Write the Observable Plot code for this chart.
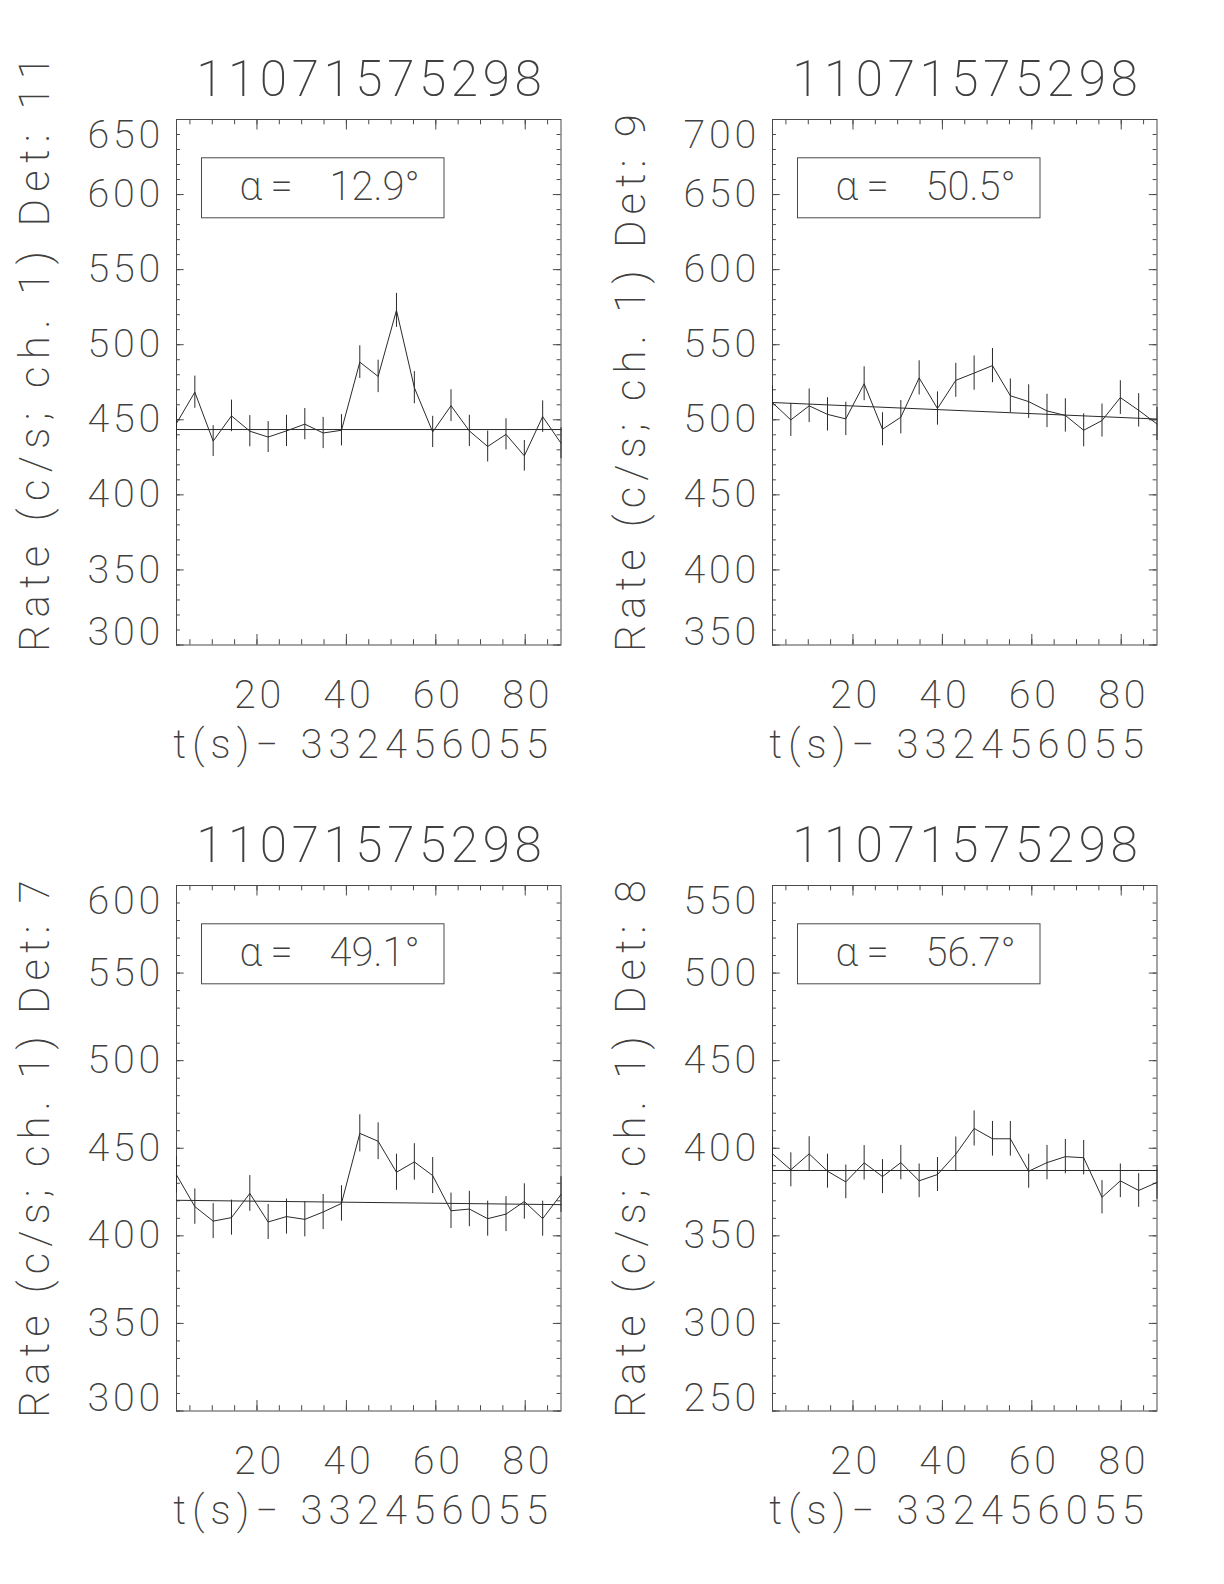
<!DOCTYPE html>
<html>
<head>
<meta charset="utf-8">
<script src="https://cdn.jsdelivr.net/npm/d3@7"></script>
<script src="https://cdn.jsdelivr.net/npm/@observablehq/plot@0.6"></script>
<style>
  body { margin: 0; background: #fff; }
  #page { position: relative; width: 1224px; height: 1584px; background: #fff; overflow: hidden; }
  #page svg { position: absolute; }
</style>
</head>
<body>
<div id="page"></div>
<script>
// Trigger and time reference
const triggerName = "11071575298";
const timeTitle = "t(s)\u2212 332456055";

// Bin times (s) relative to the reference time, 4.096 s bins
const times = [2.0, 6.1, 10.2, 14.3, 18.4, 22.5, 26.6, 30.7, 34.8, 38.9, 43.0,
               47.1, 51.2, 55.2, 59.3, 63.4, 67.5, 71.6, 75.7, 79.8, 83.9, 88.0];

// Detectors and source angles for the four panels
const detectors = [11, 9, 7, 8];
const angles = [12.9, 50.5, 49.1, 56.7];

// Count rates (c/s, channel 1) and 1-sigma errors per detector
const rate11 = [447.6, 468.4, 435.8, 452.6, 442.4, 438.5, 442.6, 447.1, 441.2, 443.0, 488.4,
                478.9, 522.9, 471.4, 441.9, 459.4, 442.6, 432.2, 440.3, 426.0, 452.1, 434.4];
const err11  = [10.5, 10.7, 10.3, 10.5, 10.4, 10.3, 10.4, 10.4, 10.4, 10.4, 10.9,
                10.8, 11.3, 10.7, 10.4, 10.6, 10.4, 10.3, 10.4, 10.2, 10.5, 10.3];
const rate9  = [511.4, 499.9, 509.3, 503.6, 500.6, 524.0, 493.7, 501.7, 527.9, 507.5, 526.3,
                531.1, 536.1, 516.0, 512.1, 505.9, 502.9, 493.0, 499.5, 514.8, 506.3, 497.2];
const err9   = [11.2, 11.0, 11.2, 11.1, 11.1, 11.3, 11.0, 11.1, 11.4, 11.1, 11.3,
                11.4, 11.4, 11.2, 11.2, 11.1, 11.1, 11.0, 11.0, 11.2, 11.1, 11.0];
const rate7  = [434.8, 416.7, 408.4, 410.4, 424.2, 407.9, 411.0, 409.4, 413.6, 418.5, 458.5,
                454.0, 436.3, 442.2, 434.4, 414.3, 415.3, 409.8, 412.4, 419.6, 409.8, 423.6];
const err7   = [10.3, 10.1, 10.0, 10.0, 10.2, 10.0, 10.0, 10.0, 10.0, 10.1, 10.6,
                10.5, 10.3, 10.4, 10.3, 10.1, 10.1, 10.0, 10.0, 10.1, 10.0, 10.2];
const rate8  = [396.8, 387.7, 396.8, 386.9, 380.8, 391.7, 383.8, 391.8, 381.4, 385.0, 396.6,
                411.3, 405.4, 405.4, 386.9, 391.8, 395.2, 394.6, 372.0, 381.4, 375.9, 380.5];
const err8   = [9.8, 9.7, 9.8, 9.7, 9.6, 9.8, 9.7, 9.8, 9.6, 9.7, 9.8,
                10.0, 9.9, 9.9, 9.7, 9.8, 9.8, 9.8, 9.5, 9.6, 9.6, 9.6];

// Background fit: value at the first and last bin
const fitTimes = [2.0, 88.0];
const fit11 = [443.5, 443.5];
const fit9  = [511.5, 500.5];
const fit7  = [420.3, 417.8];
const fit8  = [387.3, 387.3];

// Tick labels
const xTicks = [20, 40, 60, 80];
const yTicks11 = [300, 350, 400, 450, 500, 550, 600, 650];
const yTicks9  = [350, 400, 450, 500, 550, 600, 650, 700];
const yTicks7  = [300, 350, 400, 450, 500, 550, 600];
const yTicks8  = [250, 300, 350, 400, 450, 500, 550];

const panels = [
  {det: detectors[0], alpha: angles[0], rate: rate11, err: err11, fit: fit11, yTicks: yTicks11, left: 0,   top: 0},
  {det: detectors[1], alpha: angles[1], rate: rate9,  err: err9,  fit: fit9,  yTicks: yTicks9,  left: 596, top: 0},
  {det: detectors[2], alpha: angles[2], rate: rate7,  err: err7,  fit: fit7,  yTicks: yTicks7,  left: 0,   top: 765.5},
  {det: detectors[3], alpha: angles[3], rate: rate8,  err: err8,  fit: fit8,  yTicks: yTicks8,  left: 596, top: 765.5}
];

const W = 612, H = 800;
const mL = 176, mR = 51.5, mT = 119, mB = 155.5;
const FW = W - mL - mR, FH = H - mT - mB;
const ink = "#2a2a2a", axisInk = "#4a4a4a", textInk = "#404040";
const font = "Roboto, Lato, 'DejaVu Sans', sans-serif";
const fw = 200;

// Wide, plotter-like letter spacing for the different text roles
const spacing = {tick: "3.8px", title: "4.6px", time: "6.2px", legend: "3px", number: "0px"};
const rateSpacing = det => det >= 10 ? "7.3px" : "6.1px";

function legendBox(index, scales, values, dims) {
  const g = d3.create("svg:g");
  g.append("rect")
    .attr("x", dims.marginLeft + 25.5)
    .attr("y", dims.marginTop + 38.8)
    .attr("width", 242.5)
    .attr("height", 60)
    .attr("fill", "none")
    .attr("stroke", axisInk)
    .attr("stroke-width", 1);
  return g.node();
}

function drawPanel(p) {
  const rows = times.map((t, i) => ({t, r: p.rate[i], e: p.err[i]}));
  const fitRows = fitTimes.map((t, i) => ({t, r: p.fit[i]}));
  const y0 = p.yTicks[0], y1 = p.yTicks[p.yTicks.length - 1];
  const yMinor = d3.range(y0, y1 + 0.1, 10);
  const xMinor = d3.range(5, 88, 5);
  const inner = p.yTicks.slice(1, -1);
  const txt = {fill: textInk, fontFamily: font, fontWeight: fw};
  const rateTitle = `Rate (c/s; ch. 1) Det: ${p.det}`;
  const angleText = `${p.alpha.toFixed(1)}\u00b0`;

  const chart = Plot.plot({
    width: W, height: H,
    marginLeft: mL, marginRight: mR, marginTop: mT, marginBottom: mB,
    x: {domain: [2, 88], axis: null},
    y: {domain: [y0, y1], axis: null},
    style: {background: "transparent", overflow: "visible"},
    marks: [
      // inward ticks on all four sides
      Plot.tickX(xTicks, {x: d => d, insetTop: FH - 10.5, stroke: axisInk}),
      Plot.tickX(xMinor, {x: d => d, insetTop: FH - 5.3, stroke: axisInk}),
      Plot.tickX(xTicks, {x: d => d, insetBottom: FH - 10.5, stroke: axisInk}),
      Plot.tickX(xMinor, {x: d => d, insetBottom: FH - 5.3, stroke: axisInk}),
      Plot.tickY(p.yTicks, {y: d => d, insetRight: FW - 7.7, stroke: axisInk}),
      Plot.tickY(yMinor, {y: d => d, insetRight: FW - 3.9, stroke: axisInk}),
      Plot.tickY(p.yTicks, {y: d => d, insetLeft: FW - 7.7, stroke: axisInk}),
      Plot.tickY(yMinor, {y: d => d, insetLeft: FW - 3.9, stroke: axisInk}),
      Plot.frame({stroke: axisInk}),
      // background fit
      Plot.line(fitRows, {x: "t", y: "r", stroke: ink, strokeWidth: 1}),
      // error bars and light curve
      Plot.ruleX(rows, {x: "t", y1: d => d.r - d.e, y2: d => d.r + d.e, stroke: ink, strokeWidth: 1}),
      Plot.line(rows, {x: "t", y: "r", stroke: ink, strokeWidth: 1}),
      // angle legend
      legendBox,
      Plot.text(["\u03b1"], {frameAnchor: "top-left", dx: 63, dy: 80, lineAnchor: "bottom",
        textAnchor: "start", fontSize: 40, ...txt}),
      Plot.text(["="], {frameAnchor: "top-left", dx: 94, dy: 80, lineAnchor: "bottom",
        textAnchor: "start", fontSize: 40, ...txt}),
      Plot.text([angleText], {frameAnchor: "top-left", dx: 153, dy: 80,
        lineAnchor: "bottom", textAnchor: "start", fontSize: 40, ...txt}),
      // y tick labels; the end labels are kept inside the frame height
      Plot.text(inner, {y: d => d, text: d => String(d), frameAnchor: "left", textAnchor: "end",
        lineAnchor: "middle", dx: -12.5, fontSize: 39.5, ...txt}),
      Plot.text([y1], {y: d => d, text: d => String(d), frameAnchor: "left", textAnchor: "end",
        lineAnchor: "top", dx: -12.5, fontSize: 39.5, ...txt}),
      Plot.text([y0], {y: d => d, text: d => String(d), frameAnchor: "left", textAnchor: "end",
        lineAnchor: "bottom", dx: -12.5, fontSize: 39.5, ...txt}),
      // x tick labels and axis title
      Plot.text(xTicks, {x: d => d, text: d => String(d), frameAnchor: "bottom", lineAnchor: "top",
        dy: 35, dx: 2.5, fontSize: 39.5, ...txt}),
      Plot.text([timeTitle], {frameAnchor: "bottom", lineAnchor: "top", dy: 85, dx: -5,
        fontSize: 40, ...txt}),
      // trigger title
      Plot.text([triggerName], {frameAnchor: "top", lineAnchor: "bottom", dy: -24, dx: 2.5,
        fontSize: 49.5, ...txt}),
      // rate axis title
      Plot.text([rateTitle], {frameAnchor: "bottom-left", rotate: -90,
        textAnchor: "start", lineAnchor: "bottom", dx: -128, dy: 7, fontSize: 42, ...txt})
    ]
  });

  // letter spacing per text role
  d3.select(chart).selectAll("text").each(function () {
    const s = this.textContent;
    let ls = spacing.tick;
    if (s === triggerName) ls = spacing.title;
    else if (s === rateTitle) ls = rateSpacing(p.det);
    else if (s === timeTitle) ls = spacing.time;
    else if (s === angleText) ls = spacing.number;
    else if (s === "=" || s === "\u03b1") ls = spacing.legend;
    this.style.letterSpacing = ls;
  });

  chart.style.left = p.left + "px";
  chart.style.top = p.top + "px";
  document.getElementById("page").appendChild(chart);
}

panels.forEach(drawPanel);
</script>
</body>
</html>
